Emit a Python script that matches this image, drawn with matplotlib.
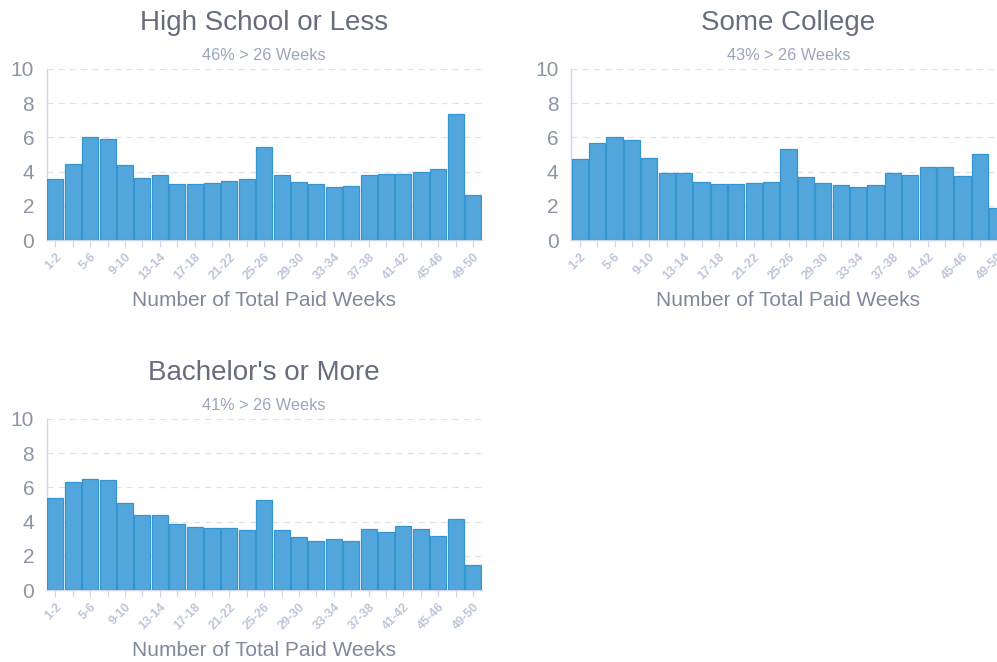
import matplotlib
matplotlib.use("Agg")
import matplotlib.pyplot as plt

plt.rcParams['font.family'] = ['Liberation Sans', 'DejaVu Sans']

categories = [f"{i}-{i+1}" for i in range(1, 51, 2)]

titles = ["High School or Less", "Some College", "Bachelor's or More"]
subtitles = ["46% > 26 Weeks", "43% > 26 Weeks", "41% > 26 Weeks"]

hs_values = [3.57, 4.42, 6.02, 5.91, 4.39, 3.63, 3.78, 3.26, 3.26, 3.33,
             3.45, 3.57, 5.42, 3.78, 3.37, 3.26, 3.08, 3.16, 3.78, 3.84,
             3.88, 3.96, 4.17, 7.37, 2.61]
sc_values = [4.72, 5.69, 6.00, 5.85, 4.78, 3.90, 3.90, 3.37, 3.26, 3.26,
             3.35, 3.37, 5.32, 3.66, 3.31, 3.20, 3.08, 3.20, 3.90, 3.80,
             4.27, 4.25, 3.74, 5.03, 1.85]
ba_values = [5.38, 6.32, 6.47, 6.41, 5.09, 4.37, 4.39, 3.86, 3.70, 3.61,
             3.61, 3.49, 5.24, 3.49, 3.10, 2.85, 2.96, 2.87, 3.55, 3.37,
             3.72, 3.59, 3.14, 4.13, 1.44]
series = [hs_values, sc_values, ba_values]

yticks = [0, 2, 4, 6, 8, 10]
xlabel = "Number of Total Paid Weeks"

W, H = 997, 662
fig = plt.figure(figsize=(W / 100, H / 100), dpi=100)

# axes rectangles in pixel coords: (left, top_of_plot, bottom_of_plot)
boxes = [(46.7, 69, 240), (571.0, 69, 240), (46.7, 419, 590)]
width_px = 435

for (left, top, bottom), vals, title, sub in zip(boxes, series, titles, subtitles):
    ax = fig.add_axes([left / W, 1 - bottom / H, width_px / W, (bottom - top) / H])
    x = list(range(len(categories)))
    ax.bar(x, vals, width=0.92, color='#52a6db', edgecolor='#3595d2',
           linewidth=0.9, zorder=3)
    ax.set_xlim(-0.5, len(categories) - 0.5)
    ax.set_ylim(0, 10)
    ax.set_yticks(yticks)
    ax.set_yticklabels([str(t) for t in yticks], fontsize=15, color='#8c95a5')
    ax.set_xticks(x)
    ax.set_xticklabels([c if i % 2 == 0 else "" for i, c in enumerate(categories)],
                       rotation=45, ha='right', rotation_mode='anchor',
                       fontsize=9, fontweight='bold', color='#bcc6d8')
    ax.tick_params(axis='y', length=0, pad=9)
    ax.tick_params(axis='x', length=5, width=0.8, color='#ccd6eb', pad=3)
    ax.grid(axis='y', linestyle=(0, (5, 4)), color='#dde3ec', linewidth=0.9, zorder=0)
    ax.set_axisbelow(True)
    for s in ['top', 'right']:
        ax.spines[s].set_visible(False)
    ax.spines['left'].set_color('#ccd6eb')
    ax.spines['bottom'].set_color('#ccd6eb')
    ax.spines['left'].set_linewidth(1)
    ax.spines['bottom'].set_linewidth(1)
    h = bottom - top
    ax.text(0.5, 1 + 46 / h, title, transform=ax.transAxes, ha='center', va='center',
            fontsize=20, color='#666e7e')
    ax.text(0.5, 1 + 14 / h, sub, transform=ax.transAxes, ha='center', va='center',
            fontsize=11.7, color='#9ba6ba')
    ax.text(0.5, -61 / h, xlabel, transform=ax.transAxes, ha='center', va='center',
            fontsize=15, color='#7e899b')

fig.savefig("out.png", dpi=100)
